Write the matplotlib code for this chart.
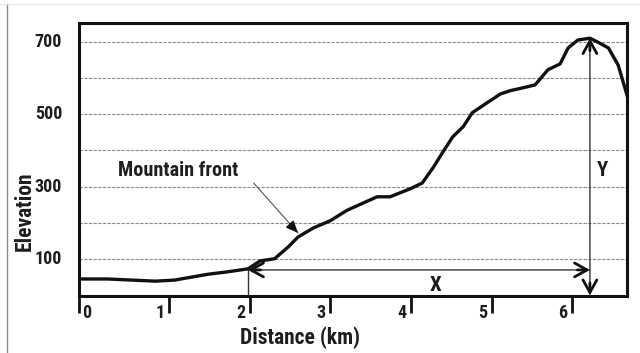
import matplotlib
matplotlib.use("Agg")
import matplotlib.pyplot as plt
from matplotlib import font_manager
from matplotlib.font_manager import FontProperties
from matplotlib.transforms import blended_transform_factory, ScaledTranslation
from matplotlib.lines import Line2D

# ---------------- data ----------------
distance_km = [-0.12, 0.24, 0.83, 1.07, 1.48, 1.70, 1.98, 2.13, 2.31, 2.48, 2.60,
               2.79, 3.00, 3.21, 3.41, 3.58, 3.74, 3.99, 4.14, 4.28, 4.40, 4.52,
               4.65, 4.76, 4.94, 5.11, 5.23, 5.39, 5.54, 5.70, 5.85, 5.95, 6.07,
               6.22, 6.32, 6.45, 6.57, 6.68]
elevation = [45, 45, 39, 42, 58, 64, 73, 95, 101, 134, 161,
             186, 206, 235, 255, 272, 272, 294, 310, 354, 397, 438,
             466, 504, 531, 556, 565, 573, 581, 623, 639, 683, 705,
             710, 699, 683, 636, 553]

x_ticks = [1, 2, 3, 4, 5, 6]
x_tick_labels = ["1", "2", "3", "4", "5", "6"]
y_ticks = [100, 300, 500, 700]
y_tick_labels = ["100", "300", "500", "700"]
grid_levels = [100, 200, 300, 400, 500, 600, 700]

front_x, front_elev = 1.98, 73          # mountain front
peak_x, peak_elev = 6.22, 710           # summit
x_arrow_elev = 70
front_text = "Mountain front"
front_text_pos = (1.11, 346)
front_arrow_start = (2.05, 310)
front_arrow_end = (2.60, 172)
x_label_pos = (4.31, 28)
y_label_pos = (6.37, 346)

XMIN, XMAX = -0.117, 6.68
YMIN, YMAX = -2, 752

# ---------------- fonts ----------------
def pick_font():
    prefs = [("Roboto Condensed", 700), ("PT Sans Narrow", 700),
             ("Archivo Narrow", 400), ("Liberation Sans", 700)]
    fl = font_manager.fontManager.ttflist
    for name, w in prefs:
        for f in fl:
            if f.name == name and f.weight == w and f.style == "normal":
                return f.fname
    return None

fpath = pick_font()
def fp(size):
    if fpath:
        return FontProperties(fname=fpath, size=size)
    return FontProperties(family="DejaVu Sans", weight="bold", size=size)

TXT = "#1e1e1e"

fig = plt.figure(figsize=(6.4, 3.53), dpi=100)
ax = fig.add_axes([79/640, 57/353, 548/640, 273/353])
ax.set_xlim(XMIN, XMAX)
ax.set_ylim(YMIN, YMAX)

# frame lines of the original figure
fig.add_artist(Line2D([7/640, 7/640], [0, 349/353], transform=fig.transFigure,
                      color="#8a8a8a", lw=1.0))
fig.add_artist(Line2D([0, 1], [349/353, 349/353], transform=fig.transFigure,
                      color="#e6e6e6", lw=0.8))

for s in ax.spines.values():
    s.set_linewidth(2.2)
    s.set_color("#111111")

# grid
for g in grid_levels:
    ax.axhline(g, color="#8c8c8c", lw=0.8, ls=(0, (3, 1.2)), zorder=1)

# profile
ax.plot(distance_km, elevation, color="#111111", lw=2.4, zorder=4,
        solid_joinstyle="round")

# ticks
ax.set_xticks([XMIN] + x_ticks)
ax.set_xticklabels([])
ax.tick_params(axis="x", direction="out", length=12, width=2.0, color="#111111")
ax.set_yticks([])

trans_x = blended_transform_factory(ax.transData, ax.transAxes)
for xv, lab in zip(x_ticks, x_tick_labels):
    ax.text(xv, 0, lab, transform=trans_x + ScaledTranslation(-0.09, -0.165, fig.dpi_scale_trans),
            ha="center", va="center", fontproperties=fp(13), color=TXT)
ax.text(XMIN, 0, "0", transform=trans_x + ScaledTranslation(0.08, -0.165, fig.dpi_scale_trans),
        ha="center", va="center", fontproperties=fp(13), color=TXT)

trans_y = blended_transform_factory(ax.transAxes, ax.transData)
for yv, lab in zip(y_ticks, y_tick_labels):
    ax.text(0, yv, lab, transform=trans_y + ScaledTranslation(-0.17, 0, fig.dpi_scale_trans),
            ha="right", va="center", fontproperties=fp(13), color=TXT)

fig.text(300/640, 1 - 338/353, "Distance (km)", ha="center", va="center",
         fontproperties=fp(15.5), color=TXT)
fig.text(25/640, 1 - 211/353, "Elevation", ha="center", va="center", rotation=90,
         fontproperties=fp(15.5), color=TXT)

# vertical line at mountain front
ax.plot([front_x, front_x], [YMIN, front_elev], color="#333333", lw=1.0, zorder=3)

# X arrow (thin shaft, bold open heads)
ax.annotate("", xy=(peak_x, x_arrow_elev), xytext=(front_x, x_arrow_elev),
            arrowprops=dict(arrowstyle="-", lw=1.0, color="#333333",
                            shrinkA=0, shrinkB=0), zorder=3)
head = dict(arrowstyle="->,head_length=0.9,head_width=0.5", lw=2.0, color="#111111",
            shrinkA=0, shrinkB=0)
ax.annotate("", xy=(front_x, x_arrow_elev), xytext=(9, 0), textcoords="offset points",
            arrowprops=head, zorder=5)
ax.annotate("", xy=(peak_x, x_arrow_elev), xytext=(-9, 0), textcoords="offset points",
            arrowprops=head, zorder=5)

# Y arrow
ax.annotate("", xy=(peak_x, peak_elev), xytext=(peak_x, 0),
            arrowprops=dict(arrowstyle="-", lw=1.0, color="#333333",
                            shrinkA=0, shrinkB=0), zorder=3)
ax.annotate("", xy=(peak_x, peak_elev), xytext=(0, -9), textcoords="offset points",
            arrowprops=head, zorder=5)
ax.annotate("", xy=(peak_x, 0), xytext=(0, 9), textcoords="offset points",
            arrowprops=head, zorder=5)

# mountain front pointer
ax.annotate("", xy=front_arrow_end, xytext=front_arrow_start,
            arrowprops=dict(arrowstyle="-", lw=0.8, color="#555555",
                            shrinkA=0, shrinkB=0), zorder=3)
ax.annotate("", xy=front_arrow_end, xytext=(-6, 6.5), textcoords="offset points",
            arrowprops=dict(arrowstyle="-|>,head_length=0.7,head_width=0.3", lw=1.2,
                            color="#111111", shrinkA=0, shrinkB=0), zorder=5)

ax.text(*front_text_pos, front_text, ha="center", va="center",
        fontproperties=fp(14.5), color=TXT)
ax.text(*x_label_pos, "X", ha="center", va="center", fontproperties=fp(15), color=TXT)
ax.text(*y_label_pos, "Y", ha="center", va="center", fontproperties=fp(15), color=TXT)

fig.savefig("out.png", dpi=100)
